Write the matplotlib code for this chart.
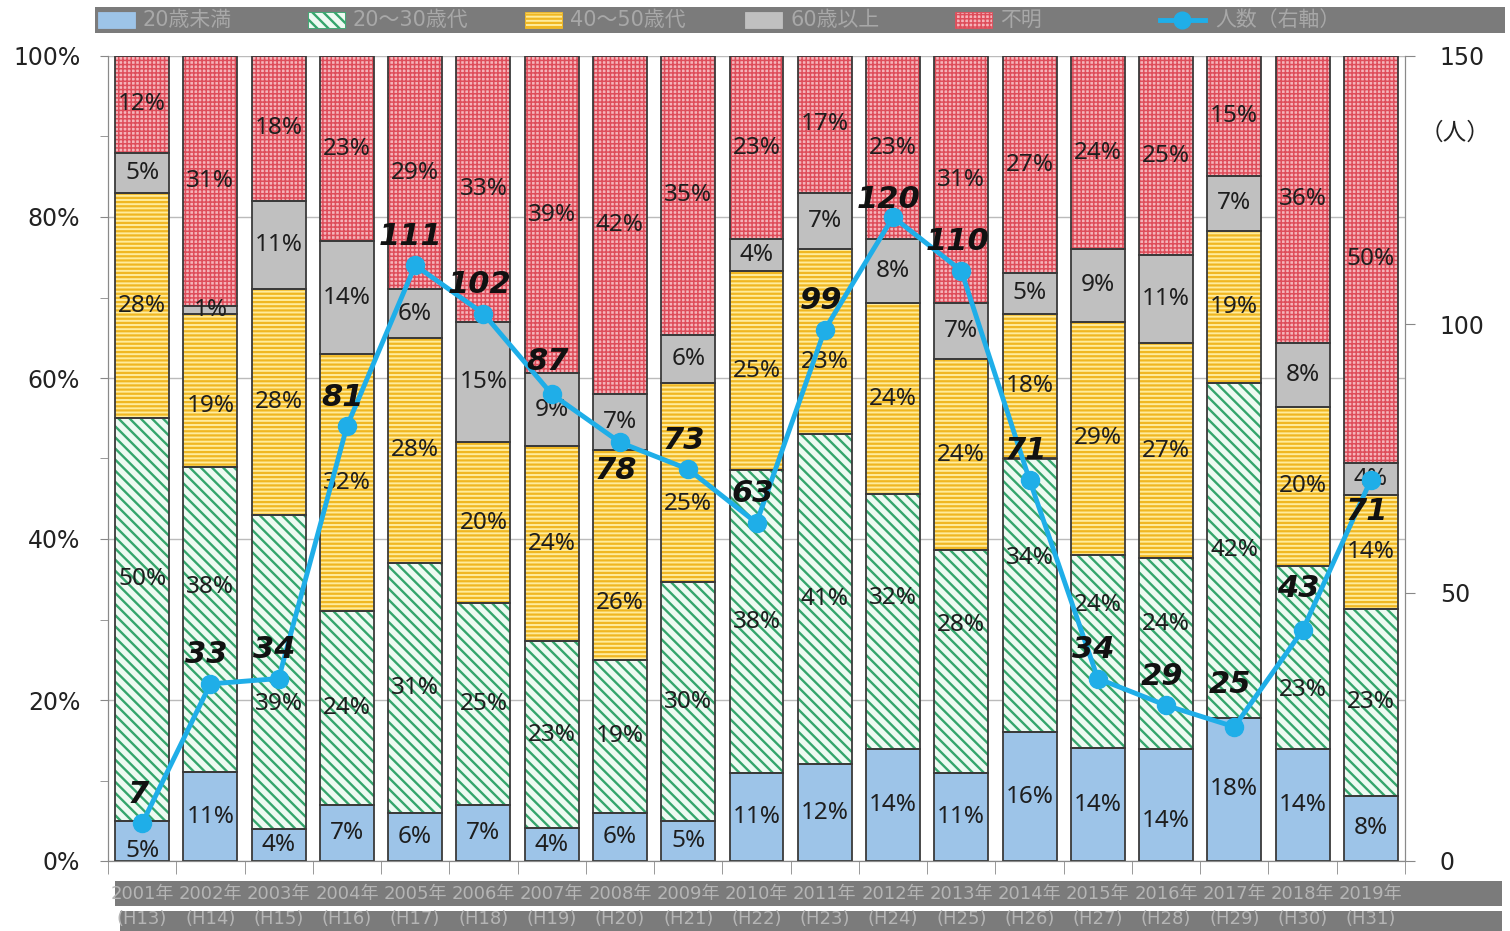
import matplotlib
matplotlib.use("Agg")
import matplotlib.pyplot as plt
import numpy as np
from matplotlib.patches import Rectangle
from matplotlib.lines import Line2D

plt.rcParams['font.family'] = ['DejaVu Sans', 'Noto Sans CJK JP']

# ---- data -------------------------------------------------------------
categories = [f"{y}年\n(H{y - 1988})" for y in range(2001, 2020)]
series_names = ["20歳未満", "20～30歳代", "40～50歳代", "60歳以上", "不明"]
line_name = "人数（右軸）"

under20 = [5, 11, 4, 7, 6, 7, 4, 6, 5, 11, 12, 14, 11, 16, 14, 14, 18, 14, 8]
age20_30 = [50, 38, 39, 24, 31, 25, 23, 19, 30, 38, 41, 32, 28, 34, 24, 24, 42, 23, 23]
age40_50 = [28, 19, 28, 32, 28, 20, 24, 26, 25, 25, 23, 24, 24, 18, 29, 27, 19, 20, 14]
age60plus = [5, 1, 11, 14, 6, 15, 9, 7, 6, 4, 7, 8, 7, 5, 9, 11, 7, 8, 4]
unknown = [12, 31, 18, 23, 29, 33, 39, 42, 35, 23, 17, 23, 31, 27, 24, 25, 15, 36, 50]
persons = [7, 33, 34, 81, 111, 102, 87, 78, 73, 63, 99, 120, 110, 71, 34, 29, 25, 43, 71]

# ---- styling ----------------------------------------------------------
face_colors = ['#9DC4E8', '#EEFAF2', '#FFEC9C', '#C0C0C0', '#F5B4BA']
hatch_colors = ['#9DC4E8', '#35A56C', '#F0B722', '#C0C0C0', '#DE4D5A']
hatches = [None, '\\\\\\', '----', None, '++++']
hatch_widths = [1.0, 1.7, 1.6, 1.0, 1.1]
line_color = '#1FAEE8'

# label nudges (percentage points) for crowded segments: (series, bar) -> dy
pct_nudge = {(0, 0): -1.3, (1, 0): 5, (1, 1): 4, (1, 2): -4, (2, 1): -2,
             (2, 7): -6, (2, 8): -2.7, (2, 10): -2.5, (1, 11): 3, (1, 12): 4.6,
             (1, 13): 4.6, (1, 14): 5.8, (1, 15): 3.7, (1, 17): -4, (0, 15): -2}
# vertical offset of the count labels (pixels, negative = below the marker)
count_offset = {7: -28, 18: -32, 11: 17, 16: 42, 17: 42, 6: 33}

fig = plt.figure(figsize=(15.1, 9.31), dpi=100)
ax = fig.add_axes([108 / 1510, 70 / 931, (1405 - 108) / 1510, (861 - 56) / 931])
ax2 = ax.twinx()

x = np.arange(len(categories))
data = np.array([under20, age20_30, age40_50, age60plus, unknown], dtype=float)
shares = data / data.sum(axis=0) * 100
bottoms = np.zeros(len(categories))
width = 0.79

for i in range(len(series_names)):
    plt.rcParams['hatch.linewidth'] = hatch_widths[i]
    ax.bar(x, shares[i], width, bottom=bottoms, color=face_colors[i],
           edgecolor=hatch_colors[i], hatch=hatches[i], linewidth=0, zorder=2)
    ax.bar(x, shares[i], width, bottom=bottoms, fill=False,
           edgecolor='#3a3a3a', linewidth=1.3, zorder=3)
    for j in range(len(categories)):
        yc = bottoms[j] + shares[i][j] / 2 + pct_nudge.get((i, j), 0)
        ax.text(x[j], yc, f"{int(data[i][j])}%", ha='center', va='center',
                fontsize=17.5, color='#1e1e1e', zorder=4,
                family=['Noto Sans', 'DejaVu Sans'])
    bottoms += shares[i]

ax.set_xlim(-0.5, len(categories) - 0.5)
ax.set_ylim(0, 100)
ax.set_yticks(np.arange(0, 101, 20))
ax.set_yticklabels([f"{v}%" for v in range(0, 101, 20)], fontsize=17, color='#222222')
ax.set_yticks(np.arange(10, 100, 20), minor=True)
ax.tick_params(axis='y', which='both', length=6, color='#888888', pad=14)
ax.grid(axis='y', which='major', color='#BBBBBB', linewidth=1.0, zorder=0)
ax.set_axisbelow(True)

ax.set_xticks(x)
ax.set_xticklabels(categories, fontsize=13, color='#B5B5B5', linespacing=1.55)
ax.set_xticks(np.arange(-0.5, len(categories), 1), minor=True)
ax.tick_params(axis='x', which='major', length=0, pad=17)
ax.tick_params(axis='x', which='minor', length=9, color='#888888')

ax.spines['top'].set_visible(False)
ax2.spines['top'].set_visible(False)
for side in ['left', 'bottom', 'right']:
    ax.spines[side].set_color('#8a8a8a')
    ax2.spines[side].set_color('#8a8a8a')

ax2.plot(x, persons, color=line_color, linewidth=3.5, marker='o',
         markersize=13, zorder=5)
ax2.set_ylim(0, 150)
ax2.set_yticks([0, 50, 100, 150])
ax2.set_yticklabels(['0', '50', '100', '150'], fontsize=17, color='#222222')
ax2.tick_params(axis='y', length=7, color='#888888', pad=18)
for j, v in enumerate(persons):
    dy = count_offset.get(j, 29) * 72 / 100
    ax2.annotate(str(v), (x[j], v), xytext=(-3, dy), textcoords='offset points',
                 ha='center', va='center', fontsize=22, fontweight='bold',
                 fontstyle='italic', color='#111111', zorder=6)

fig.text(1455 / 1510, 1 - 133 / 931, '（人）', fontsize=17, ha='center',
         va='center', family=['Noto Sans CJK JP', 'DejaVu Sans'], color='#222222')

# grey bands behind the category labels and the legend
band = dict(transform=fig.transFigure, facecolor='#7b7b7b', edgecolor='none', zorder=-1)
fig.patches.append(Rectangle((115 / 1510, 1 - 906 / 931), (1502 - 115) / 1510, 25 / 931, **band))
fig.patches.append(Rectangle((120 / 1510, 0), (1502 - 120) / 1510, 20 / 931, **band))
fig.patches.append(Rectangle((95 / 1510, 1 - 33 / 931), (1505 - 95) / 1510, 26 / 931, **band))

# legend entries
swatch_x = [98, 308, 525, 745, 955]
for i, name in enumerate(series_names):
    plt.rcParams['hatch.linewidth'] = hatch_widths[i]
    fig.patches.append(Rectangle((swatch_x[i] / 1510, 1 - 28 / 931), 37 / 1510, 16 / 931,
                                 transform=fig.transFigure, facecolor=face_colors[i],
                                 edgecolor=hatch_colors[i], hatch=hatches[i],
                                 linewidth=0.6, zorder=1))
    fig.text((swatch_x[i] + 45) / 1510, 1 - 20 / 931, name, fontsize=15,
             color='#A8A8A8', va='center', ha='left')
fig.lines.append(Line2D([1160 / 1510, 1205 / 1510], [1 - 20 / 931] * 2,
                        transform=fig.transFigure, color=line_color, linewidth=3.5,
                        zorder=2))
fig.lines.append(Line2D([1182 / 1510], [1 - 20 / 931], transform=fig.transFigure,
                        color=line_color, marker='o', markersize=12, zorder=2))
fig.text(1215 / 1510, 1 - 20 / 931, line_name, fontsize=15, color='#A8A8A8',
         va='center', ha='left')

fig.savefig('out.png', dpi=100)
